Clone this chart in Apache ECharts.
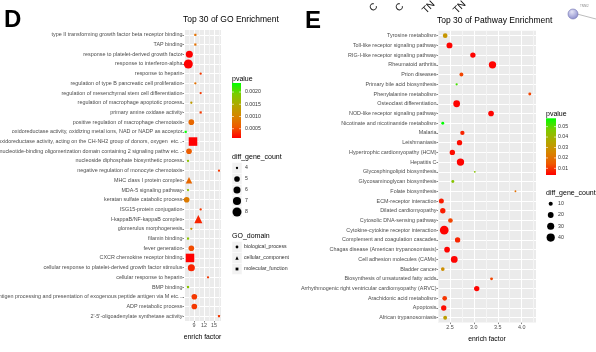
<!DOCTYPE html>
<html>
<head>
<meta charset="utf-8">
<script src="https://cdn.jsdelivr.net/npm/echarts@6/dist/echarts.min.js"></script>
<style>
  html, body { margin: 0; padding: 0; background: #fff; }
  #chart { width: 596px; height: 352px; }
</style>
</head>
<body>
<div id="chart"></div>
<script>
// ---- panel D: GO enrichment ----
const goTerms = [
  'type II transforming growth factor beta receptor binding',
  'TAP binding',
  'response to platelet-derived growth factor',
  'response to interferon-alpha',
  'response to heparin',
  'regulation of type B pancreatic cell proliferation',
  'regulation of mesenchymal stem cell differentiation',
  'regulation of macrophage apoptotic process',
  'primary amine oxidase activity',
  'positive regulation of macrophage chemotaxis',
  'oxidoreductase activity, oxidizing metal ions, NAD or NADP as acceptor',
  'oxidoreductase activity, acting on the CH-NH2 group of donors, oxygen  etc...',
  'nucleotide-binding oligomerization domain containing 2 signaling pathw etc...',
  'nucleoside diphosphate biosynthetic process',
  'negative regulation of monocyte chemotaxis',
  'MHC class I protein complex',
  'MDA-5 signaling pathway',
  'keratan sulfate catabolic process',
  'ISG15-protein conjugation',
  'I-kappaB/NF-kappaB complex',
  'glomerulus morphogenesis',
  'filamin binding',
  'fever generation',
  'CXCR chemokine receptor binding',
  'cellular response to platelet-derived growth factor stimulus',
  'cellular response to heparin',
  'BMP binding',
  'antigen processing and presentation of exogenous peptide antigen via M etc...',
  'ADP metabolic process',
  "2'-5'-oligoadenylate synthetase activity"
];
const goEnrich = [9.4, 9.4, 7.6, 7.3, 11.0, 9.4, 11.0, 8.2, 11.0, 8.2,
                  6.5, 8.7, 7.5, 7.2, 16.5, 7.5, 7.2, 6.8, 11.0, 10.3,
                  8.2, 7.2, 8.2, 7.8, 8.2, 13.2, 7.2, 9.1, 9.1, 16.5];
const goPvalue = [0.0008, 0.0008, 0.0001, 0.00005, 0.0004, 0.0008, 0.0004, 0.0013, 0.0004, 0.0007,
                  0.0024, 0.0001, 0.0006, 0.0018, 0.0004, 0.0007, 0.0018, 0.0009, 0.0004, 0.0003,
                  0.0012, 0.0018, 0.0005, 0.0001, 0.0003, 0.0004, 0.0018, 0.0004, 0.0004, 0.0004];
const goCount = [4, 4, 6, 8, 4, 4, 4, 4, 4, 5,
                 4, 8, 5, 4, 4, 5, 4, 5, 4, 6,
                 4, 4, 5, 8, 6, 4, 4, 5, 5, 4];
const goDomain = ['molecular_function', 'molecular_function', 'biological_process', 'biological_process',
  'biological_process', 'biological_process', 'biological_process', 'biological_process',
  'molecular_function', 'biological_process', 'molecular_function', 'molecular_function',
  'biological_process', 'biological_process', 'biological_process', 'cellular_component',
  'biological_process', 'biological_process', 'biological_process', 'cellular_component',
  'biological_process', 'molecular_function', 'biological_process', 'molecular_function',
  'biological_process', 'biological_process', 'molecular_function', 'biological_process',
  'biological_process', 'molecular_function'];
const goXTicks = [9, 12, 15];
const goPTicks = [0.0005, 0.0010, 0.0015, 0.0020];
const goCountTicks = [4, 5, 6, 7, 8];
const goDomainNames = ['biological_process', 'cellular_component', 'molecular_function'];

// ---- panel E: pathway enrichment ----
const pathTerms = [
  'Tyrosine metabolism',
  'Toll-like receptor signaling pathway',
  'RIG-I-like receptor signaling pathway',
  'Rheumatoid arthritis',
  'Prion diseases',
  'Primary bile acid biosynthesis',
  'Phenylalanine metabolism',
  'Osteoclast differentiation',
  'NOD-like receptor signaling pathway',
  'Nicotinate and nicotinamide metabolism',
  'Malaria',
  'Leishmaniasis',
  'Hypertrophic cardiomyopathy (HCM)',
  'Hepatitis C',
  'Glycosphingolipid biosynthesis',
  'Glycosaminoglycan biosynthesis',
  'Folate biosynthesis',
  'ECM-receptor interaction',
  'Dilated cardiomyopathy',
  'Cytosolic DNA-sensing pathway',
  'Cytokine-cytokine receptor interaction',
  'Complement and coagulation cascades',
  'Chagas disease (American trypanosomiasis)',
  'Cell adhesion molecules (CAMs)',
  'Bladder cancer',
  'Biosynthesis of unsaturated fatty acids',
  'Arrhythmogenic right ventricular cardiomyopathy (ARVC)',
  'Arachidonic acid metabolism',
  'Apoptosis',
  'African trypanosomiasis'
];
const pathEnrich = [2.40, 2.49, 2.98, 3.39, 2.74, 2.64, 4.17, 2.64, 3.36, 2.35,
                    2.76, 2.70, 2.55, 2.72, 3.02, 2.56, 3.87, 2.32, 2.35, 2.51,
                    2.38, 2.66, 2.44, 2.59, 2.35, 3.37, 3.06, 2.39, 2.37, 2.40];
const pathPvalue = [0.030, 0.004, 0.004, 0.004, 0.012, 0.052, 0.012, 0.004, 0.004, 0.058,
                    0.008, 0.005, 0.005, 0.004, 0.045, 0.045, 0.020, 0.007, 0.007, 0.012,
                    0.004, 0.008, 0.004, 0.004, 0.028, 0.012, 0.004, 0.010, 0.005, 0.033];
const pathCount = [13, 21, 17, 32, 9, 3, 5, 27, 19, 5,
                   11, 17, 17, 32, 2, 5, 2, 15, 17, 13,
                   45, 17, 19, 27, 8, 5, 17, 13, 17, 9];
const pathXTicks = [2.5, 3.0, 3.5, 4.0];
const pathPTicks = [0.01, 0.02, 0.03, 0.04, 0.05];
const pathCountTicks = [10, 20, 30, 40];

// ---- styling helpers ----
const FONT = '"Liberation Sans", Arial, sans-serif';
const RAMP = ['#FF0000', '#EE5A00', '#D68600', '#B0A800', '#7CCB00', '#00FF00'];
const SHAPE = { biological_process: 'circle', cellular_component: 'triangle', molecular_function: 'rect' };
const goRange = [0.00012, 0.00237];
const pathRange = [0.0036, 0.058];

function goSize(c) { return 2.3 + 6.7 * Math.sqrt(Math.max(c - 4, 0) / 4); }
function pathSize(c) { return 1.3 * Math.sqrt(c); }
function shapeSize(c, d) {
  const s = goSize(c);
  return d === 'cellular_component' ? s * 1.15 : d === 'molecular_function' ? s * 0.95 : s;
}

const chart = echarts.init(document.getElementById('chart'));

function catAxis(gridIndex, data) {
  return {
    type: 'category', gridIndex, data, inverse: true,
    axisLine: { show: false },
    axisTick: { show: true, alignWithLabel: true, length: 1.5, lineStyle: { color: '#333', width: 0.6 } },
    axisLabel: { interval: 0, fontSize: 5.4, color: '#4D4D4D', fontFamily: FONT, margin: 1.5 },
    splitLine: { show: true, alignWithLabel: true, lineStyle: { color: '#fff', width: 1 } }
  };
}
function labelAxis(gridIndex, min, max, ticks, fmt) {
  return {
    type: 'value', gridIndex, min, max,
    axisLine: { show: false },
    axisTick: { show: true, customValues: ticks, length: 1.5, lineStyle: { color: '#333', width: 0.6 } },
    axisLabel: { customValues: ticks, fontSize: 5.4, color: '#4D4D4D', fontFamily: FONT, margin: 2.5, formatter: fmt },
    splitLine: { show: false },
    name: 'enrich factor', nameLocation: 'middle', nameGap: 13,
    nameTextStyle: { fontSize: 6.8, color: '#000', fontFamily: FONT }
  };
}
function lineAxis(gridIndex, min, max, interval, colors) {
  return {
    type: 'value', gridIndex, min, max, interval, position: 'top',
    axisLine: { show: false }, axisTick: { show: false }, axisLabel: { show: false },
    splitLine: { show: true, lineStyle: { color: colors, width: 1 } }
  };
}

function colorbar(x, y, w, h, range, ticks, labelX, fmt) {
  const stops = RAMP.map((c, i) => ({ offset: 1 - i / (RAMP.length - 1), color: c }));
  const els = [{
    type: 'rect', shape: { x, y, width: w, height: h },
    style: { fill: new echarts.graphic.LinearGradient(0, 0, 0, 1, stops) }
  }];
  ticks.forEach(v => {
    const ty = y + h - (v - range[0]) / (range[1] - range[0]) * h;
    els.push({ type: 'line', shape: { x1: x, y1: ty, x2: x + 2, y2: ty }, style: { stroke: '#fff', lineWidth: 0.6 } });
    els.push({ type: 'line', shape: { x1: x + w - 2, y1: ty, x2: x + w, y2: ty }, style: { stroke: '#fff', lineWidth: 0.6 } });
    els.push(txt(labelX, ty, fmt(v), 5.2, '#333'));
  });
  return els;
}
function txt(x, y, text, size, color, extra) {
  return Object.assign({
    type: 'text', x, y,
    style: { text, font: size + 'px ' + FONT, fill: color, align: 'left', verticalAlign: 'middle',
             textAlign: 'left', textVerticalAlign: 'middle' }
  }, extra || {});
}
function symbolKey(kind, cx, cy, s) {
  if (kind === 'circle') return { type: 'circle', shape: { cx, cy, r: s / 2 }, style: { fill: '#000' } };
  if (kind === 'rect') return { type: 'rect', shape: { x: cx - s / 2, y: cy - s / 2, width: s, height: s }, style: { fill: '#000' } };
  return { type: 'polygon', shape: { points: [[cx, cy - s / 2], [cx + s / 2, cy + s / 2], [cx - s / 2, cy + s / 2]] }, style: { fill: '#000' } };
}

const graphics = [];
// panel letters and titles
graphics.push(txt(4, 20, 'D', 24, '#000', { style: { text: 'D', font: 'bold 24px ' + FONT, fill: '#000', verticalAlign: 'middle', textVerticalAlign: 'middle' } }));
graphics.push(txt(305, 21, 'E', 24, '#000', { style: { text: 'E', font: 'bold 24px ' + FONT, fill: '#000', verticalAlign: 'middle', textVerticalAlign: 'middle' } }));
graphics.push(txt(183, 20, 'Top 30 of GO Enrichment', 8.5, '#000'));
graphics.push(txt(437, 21, 'Top 30 of Pathway Enrichment', 8.5, '#000'));

// D legends
graphics.push(txt(232, 79, 'pvalue', 7, '#000'));
graphics.push(...colorbar(232, 83, 9, 55, goRange, goPTicks, 245, v => v.toFixed(4)));
graphics.push(txt(232, 157, 'diff_gene_count', 7, '#000'));
goCountTicks.forEach((c, i) => {
  const cy = 168 + i * 11;
  graphics.push({ type: 'rect', shape: { x: 232, y: cy - 5.5, width: 10, height: 11 }, style: { fill: '#F2F2F2', stroke: '#fff', lineWidth: 0.5 } });
  graphics.push(symbolKey('circle', 237, cy, goSize(c)));
  graphics.push(txt(245, cy, String(c), 5.2, '#333'));
});
graphics.push(txt(232, 236, 'GO_domain', 7, '#000'));
goDomainNames.forEach((d, i) => {
  const cy = 247 + i * 11;
  graphics.push({ type: 'rect', shape: { x: 232, y: cy - 5.5, width: 10, height: 11 }, style: { fill: '#F2F2F2', stroke: '#fff', lineWidth: 0.5 } });
  graphics.push(symbolKey(SHAPE[d], 237, cy, d === 'cellular_component' ? 3.4 : 2.8));
  graphics.push(txt(244, cy, d, 5.2, '#333'));
});

// E legends
graphics.push(txt(546, 114, 'pvalue', 7, '#000'));
graphics.push(...colorbar(546, 118.3, 10, 56.7, pathRange, pathPTicks, 558, v => v.toFixed(2)));
graphics.push(txt(546, 192.7, 'diff_gene_count', 7, '#000'));
pathCountTicks.forEach((c, i) => {
  const cy = 203.7 + i * 11.3;
  graphics.push(symbolKey('circle', 550.7, cy, pathSize(c)));
  graphics.push(txt(558, cy, String(c), 5.2, '#333'));
});

// fragments of the neighbouring figure at the top edge
[['C', 371, 10], ['C', 397, 10], ['TN', 424, 12], ['TN', 455, 12]].forEach(([t, x, y]) => {
  graphics.push(txt(x, y, t, 10, '#111', { rotation: Math.PI / 4 }));
});
graphics.push({ type: 'line', shape: { x1: 577, y1: 14, x2: 596, y2: 19 }, style: { stroke: '#BDBDBD', lineWidth: 1 } });
graphics.push({
  type: 'circle', shape: { cx: 573, cy: 14, r: 5 },
  style: {
    fill: new echarts.graphic.RadialGradient(0.4, 0.3, 0.8, [{ offset: 0, color: '#E4E4F6' }, { offset: 1, color: '#7F81C7' }]),
    stroke: '#6F71B0', lineWidth: 0.6
  }
});
graphics.push(txt(580, 6, 'TNNI2', 3, '#888'));

const option = {
  animation: false,
  backgroundColor: '#fff',
  grid: [
    { left: 184, top: 30, width: 37, height: 291, show: true, backgroundColor: '#EBEBEB', borderWidth: 0,
      containLabel: false, outerBoundsMode: 'none' },
    { left: 438, top: 30.8, width: 98, height: 291.8, show: true, backgroundColor: '#EBEBEB', borderWidth: 0,
      containLabel: false, outerBoundsMode: 'none' }
  ],
  xAxis: [
    labelAxis(0, 6, 17.1, goXTicks, v => String(v)),
    lineAxis(0, 6, 17.1, 1.5, ['#FFFFFF', '#F5F5F5']),
    labelAxis(1, 2.25, 4.3, pathXTicks, v => v.toFixed(1)),
    lineAxis(1, 2.25, 4.3, 0.25, ['#F5F5F5', '#FFFFFF'])
  ],
  yAxis: [catAxis(0, goTerms), catAxis(1, pathTerms)],
  visualMap: [
    { type: 'continuous', show: false, seriesIndex: 0, dimension: 2, min: goRange[0], max: goRange[1], inRange: { color: RAMP } },
    { type: 'continuous', show: false, seriesIndex: 1, dimension: 2, min: pathRange[0], max: pathRange[1], inRange: { color: RAMP } }
  ],
  series: [
    {
      type: 'scatter', xAxisIndex: 0, yAxisIndex: 0,
      data: goTerms.map((t, i) => [goEnrich[i], t, goPvalue[i], goCount[i], goDomain[i]]),
      symbol: v => SHAPE[v[4]],
      symbolSize: v => shapeSize(v[3], v[4]),
      itemStyle: { opacity: 1 }
    },
    {
      type: 'scatter', xAxisIndex: 2, yAxisIndex: 1,
      data: pathTerms.map((t, i) => [pathEnrich[i], t, pathPvalue[i], pathCount[i]]),
      symbol: 'circle',
      symbolSize: v => pathSize(v[3]),
      itemStyle: { opacity: 1 }
    }
  ],
  graphic: { elements: graphics }
};

chart.setOption(option);
window.addEventListener('resize', () => chart.resize());
</script>
</body>
</html>
